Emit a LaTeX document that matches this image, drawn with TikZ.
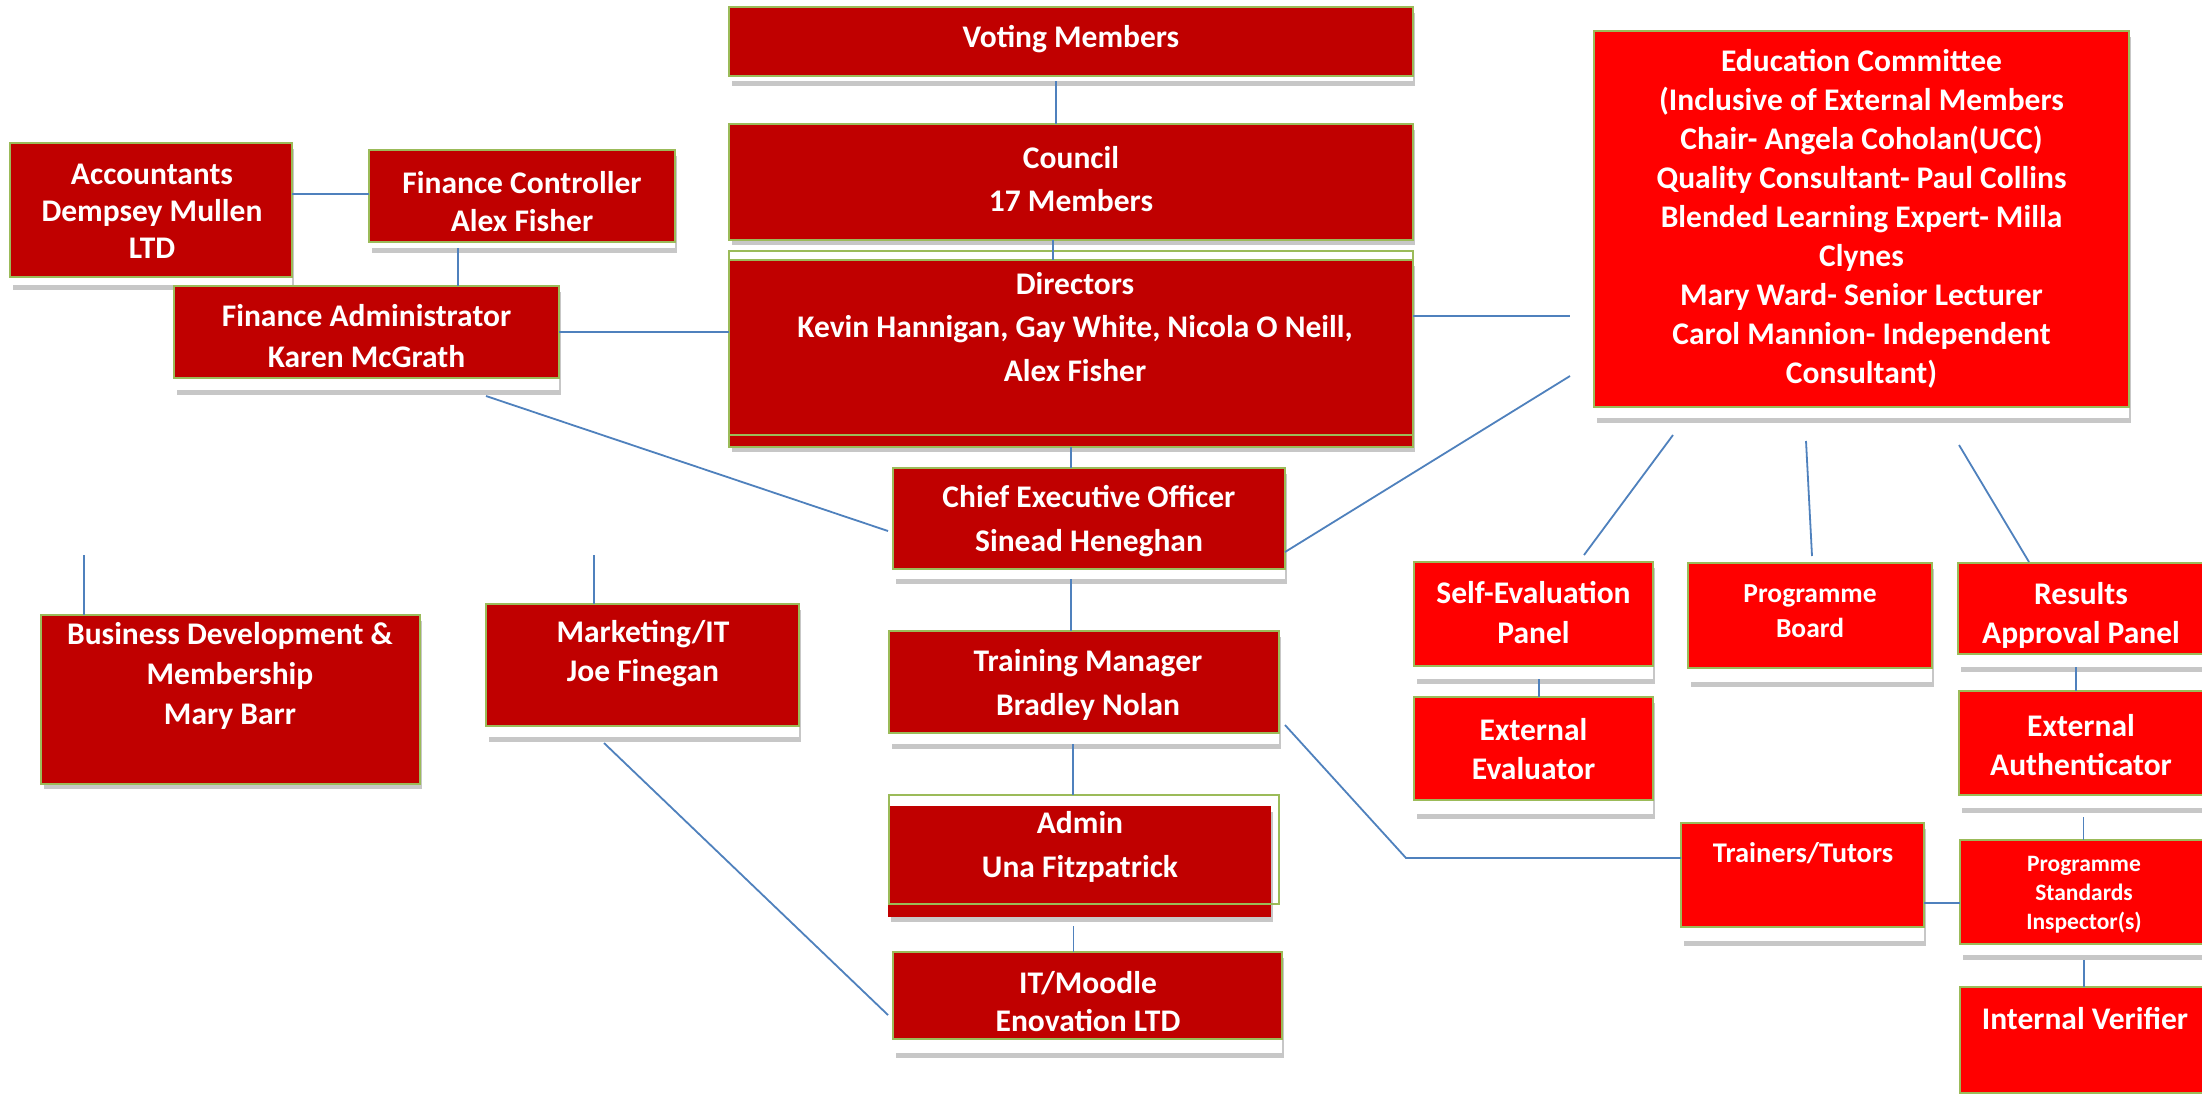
\documentclass[tikz,border=0pt]{standalone}
\usepackage{fontspec}
\setmainfont{Carlito}
\usetikzlibrary{calc}
\definecolor{dred}{HTML}{C00000}
\definecolor{bred}{HTML}{FF0000}
\definecolor{bgreen}{HTML}{9BBB59}
\definecolor{lblue}{HTML}{4F81BD}
\newcommand\mkbox[7]{% name, style, x1, y1, x2, y2, strip bottom
  \fill[shad] (#3+3,#4+6) rectangle (#5+2,#7+5);
  \fill[white] (#3,#4) rectangle (#5,#7);
  \node[#2, minimum width=#5-#3, minimum height=#6-#4, anchor=north west] (#1) at (#3,#4) {};
}
\begin{document}
\begin{tikzpicture}[x=1pt,y=-1pt,
  box/.style={draw=bgreen, line width=2.5pt, inner sep=0pt, outer sep=0pt, rectangle},
  dbox/.style={box, fill=dred},
  rbox/.style={box, fill=bred},
  frame/.style={draw=bgreen, line width=2.5pt, inner sep=0pt, outer sep=0pt, rectangle},
  txt/.style={text=white, font=\fontsize{31.5}{43.5}\selectfont\bfseries, align=center, inner sep=0pt},
  conn/.style={draw=lblue, line width=1.8pt},
  shad/.style={fill=black!22}]
\fill[white] (0,0) rectangle (2202,1101);
\useasboundingbox (0,0) rectangle (2202,1101);

% ---------- boxes ----------
\mkbox{vm}{dbox}{729}{7}{1413}{76}{81}
\mkbox{council}{dbox}{729}{124}{1413}{240}{240}
% Directors (red block with offset green frame)
\fill[shad] (732,266) rectangle (1415,452);
\node[dbox, minimum width=684, minimum height=187, anchor=north west] (dir) at (729,260) {};
\node[frame, minimum width=684, minimum height=184, anchor=north west] (dirf) at (729,251) {};
\mkbox{ceo}{dbox}{893}{468}{1285}{569}{579}
\mkbox{tm}{dbox}{889}{631}{1279}{733}{744}
% Admin (red block with offset green frame)
\fill[shad] (891,812) rectangle (1273,922);
\node[fill=dred, inner sep=0pt, outer sep=0pt, minimum width=383, minimum height=111, anchor=north west] (admin) at (888,806) {};
\node[frame, minimum width=390, minimum height=109, anchor=north west] (adminf) at (889,795) {};
\mkbox{it}{dbox}{893}{952}{1282}{1039}{1053}
\mkbox{acc}{dbox}{10}{143}{292}{277}{285}
\mkbox{fc}{dbox}{369}{150}{675}{242}{248}
\mkbox{fa}{dbox}{174}{286}{559}{378}{390}
\mkbox{ec}{rbox}{1594}{31}{2129}{407}{418}
\mkbox{se}{rbox}{1414}{562}{1653}{666}{679}
\mkbox{ee}{rbox}{1414}{697}{1653}{800}{814}
\mkbox{pb}{rbox}{1688}{563}{1932}{668}{682}
\mkbox{res}{rbox}{1958}{563}{2210}{654}{667}
\mkbox{ea}{rbox}{1959}{691}{2210}{795}{808}
\mkbox{psi}{rbox}{1960}{840}{2210}{944}{955}
\mkbox{tr}{rbox}{1681}{823}{1924}{927}{941}
\mkbox{iv}{rbox}{1960}{987}{2210}{1093}{1110}
\mkbox{bd}{dbox}{41}{615}{420}{784}{784}
\mkbox{mk}{dbox}{486}{604}{799}{726}{737}

% ---------- texts ----------
\node[txt] (vmt) at (1071,39) {Voting Members};
\node[txt] (cot) at (1071,179) {Council\\17 Members};
\node[txt] (dirt) at (1075,327) {Directors\\Kevin Hannigan, Gay White, Nicola O Neill,\\Alex Fisher};
\node[txt] (ceot) at (1089,521) {Chief Executive Officer\\Sinead Heneghan};
\node[txt] (tmt) at (1088,685) {Training Manager\\Bradley Nolan};
\node[txt] (admint) at (1080,847) {Admin\\Una Fitzpatrick};
\node[txt, font=\fontsize{31.5}{38}\selectfont\bfseries] (itt) at (1088,1002) {IT/Moodle\\Enovation LTD};
\node[txt, font=\fontsize{31.5}{37}\selectfont\bfseries] (acct) at (152,211) {Accountants\\Dempsey Mullen\\LTD};
\node[txt, font=\fontsize{31.5}{38}\selectfont\bfseries] (fct) at (522,201.5) {Finance Controller\\Alex Fisher};
\node[txt, font=\fontsize{31.5}{41}\selectfont\bfseries] (fat) at (366.5,336) {Finance Administrator\\Karen McGrath};
\node[txt, font=\fontsize{31.5}{39}\selectfont\bfseries] (ect) at (1861.5,219) {Education Committee\\(Inclusive of External Members\\Chair- Angela Coholan(UCC)\\Quality Consultant- Paul Collins\\Blended Learning Expert- Milla\\Clynes\\Mary Ward- Senior Lecturer\\Carol Mannion- Independent\\Consultant)};
\node[txt, font=\fontsize{31.5}{40}\selectfont\bfseries] (set) at (1533.5,613) {Self-Evaluation\\Panel};
\node[txt, font=\fontsize{31.5}{39}\selectfont\bfseries] (eet) at (1533.5,749) {External\\Evaluator};
\node[txt, font=\fontsize{27.5}{35}\selectfont\bfseries] (pbt) at (1810,611.5) {Programme\\Board};
\node[txt, font=\fontsize{31.5}{39}\selectfont\bfseries] (rest) at (2081,615) {Results\\Approval Panel};
\node[txt, font=\fontsize{31.5}{39}\selectfont\bfseries] (eat) at (2081,745) {External\\Authenticator};
\node[txt, font=\fontsize{23.5}{29}\selectfont\bfseries] (psit) at (2084,895) {Programme\\Standards\\Inspector(s)};
\node[txt, font=\fontsize{28.5}{36}\selectfont\bfseries] (trt) at (1803,853) {Trainers/Tutors};
\node[txt] (ivt) at (2085,1019) {Internal Verifier};
\node[txt, font=\fontsize{31.5}{40}\selectfont\bfseries] (bdt) at (230,676) {Business Development \&\\Membership\\Mary Barr};
\node[txt, font=\fontsize{31.5}{39}\selectfont\bfseries] (mkt) at (643,654) {Marketing/IT\\Joe Finegan};

% ---------- free-end coordinates ----------
\coordinate (dirEC) at (1570,316);
\coordinate (ceoEC) at (1570,376);
\coordinate (bend) at (1406,858);
\coordinate (bdtop) at (84,555);
\coordinate (mktop) at (594,555);

% ---------- connectors ----------
\draw[conn] ([xshift=-15pt,yshift=-5pt]vm.south) -- ([xshift=-15pt]council.north);
\draw[conn] ([xshift=-18pt]council.south) -- ([xshift=-18pt]dir.north);
\draw[conn] (dir.south) -- (dir.south |- ceo.north);
\draw[conn] ([xshift=-18pt,yshift=-10pt]ceo.south) -- ([xshift=-18pt]ceo.south |- tm.north);
\draw[conn] ([xshift=-11pt,yshift=-11pt]tm.south) -- ([xshift=-11pt]tm.south |- adminf.north);
\draw[conn] ([xshift=-6pt,yshift=-9pt]admin.south) -- ([xshift=-6pt]admin.south |- it.north);
\draw[conn] ([yshift=16pt]acc.east) -- ([yshift=16pt]acc.east -| fc.west);
\draw[conn] ([xshift=-64pt,yshift=-6pt]fc.south) -- ([xshift=-64pt]fc.south |- fa.north);
\draw[conn] (fa.east) -- (fa.east -| dir.west);
\draw[conn] ([xshift=119.5pt,yshift=-18pt]fa.south) -- ([xshift=-5pt,yshift=-12.5pt]ceo.west);
\draw[conn] ([yshift=37.5pt]dir.east) -- (dirEC);
\draw[conn] ([yshift=-33.5pt]ceo.east) -- (ceoEC);
\draw[conn] ([xshift=-188.5pt,yshift=-28pt]ec.south) -- ([xshift=50.5pt,yshift=7pt]se.north);
\draw[conn] ([xshift=-55.5pt,yshift=-34pt]ec.south) -- ([xshift=2pt,yshift=7pt]pb.north);
\draw[conn] ([xshift=97.5pt,yshift=-38pt]ec.south) -- ([xshift=-55pt,yshift=1pt]res.north);
\draw[conn] ([xshift=5.5pt,yshift=-13pt]se.south) -- ([xshift=5.5pt]se.south |- ee.north);
\draw[conn] ([xshift=-8pt,yshift=-13pt]res.south) -- ([xshift=-8pt]res.south |- ea.north);
\draw[conn] ([xshift=-1pt,yshift=-22pt]ea.south) -- ([xshift=-1pt]ea.south |- psi.north);
\draw[conn] ([xshift=-1pt,yshift=-16pt]psi.south) -- ([xshift=-1pt]psi.south |- iv.north);
\draw[conn] ([xshift=6pt,yshift=-43pt]tm.east) -- (bend) -- ([yshift=17pt]tr.west);
\draw[conn] ([yshift=-28pt]tr.east) -- ([yshift=-28pt]tr.east -| psi.west);
\draw[conn] (bdtop) -- (bdtop |- bd.north);
\draw[conn] (mktop) -- (mktop |- mk.north);
\draw[conn] ([xshift=-38.5pt,yshift=-17pt]mk.south) -- ([xshift=-5pt,yshift=-19.5pt]it.west);
\end{tikzpicture}
\end{document}
